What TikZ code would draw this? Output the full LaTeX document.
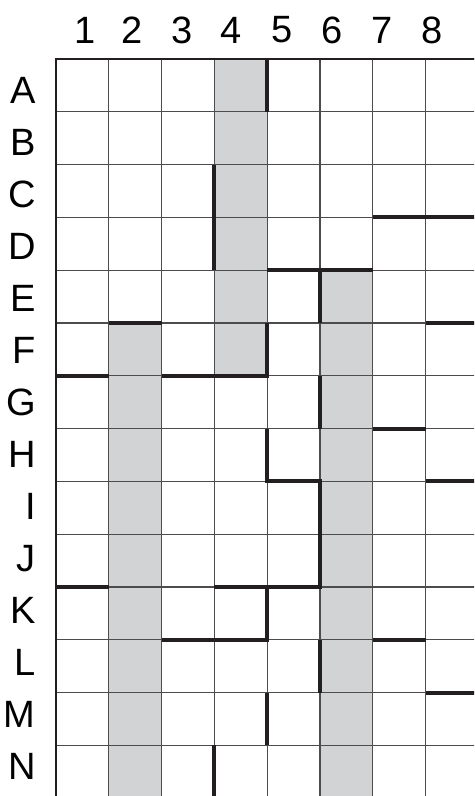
\documentclass[tikz,border=0pt]{standalone}
\usepackage{xcolor}
\usepackage{fontspec}
\setmainfont{Liberation Sans}
\usepackage{tikz}
\usetikzlibrary{positioning}

\definecolor{shadegray}{RGB}{210,211,213}
\definecolor{inkblack}{RGB}{35,31,32}

\begin{document}
\begin{tikzpicture}[
    shade/.style={fill=shadegray, draw=none},
    gridline/.style={draw=black!70, line width=0.6pt},
    frame/.style={draw=inkblack, line width=1.3pt},
    wall/.style={draw=inkblack, line width=2.2pt, line join=miter},
    collabel/.style={inner sep=0pt, font=\fontsize{20.5}{24}\selectfont},
    rowlabel/.style={inner sep=0pt, anchor=east, font=\fontsize{20.5}{24}\selectfont}
]
\useasboundingbox (-1.061,1.117) rectangle (7.917,-13.958);

% Column labels
\node[collabel] (c1) at (0.549,0.55) {1};
\node[collabel] (c2) at (1.434,0.55) {2};
\node[collabel] (c3) at (2.381,0.55) {3};
\node[collabel] (c4) at (3.314,0.55) {4};
\node[collabel] (c5) at (4.275,0.55) {5};
\node[collabel] (c6) at (5.222,0.55) {6};
\node[collabel] (c7) at (6.169,0.55) {7};
\node[collabel] (c8) at (7.116,0.55) {8};

% Row labels
\node[rowlabel] (rA) at (-0.379,-0.587) {A};
\node[rowlabel] (rB) at (-0.379,-1.573) {B};
\node[rowlabel] (rC) at (-0.379,-2.559) {C};
\node[rowlabel] (rD) at (-0.379,-3.545) {D};
\node[rowlabel] (rE) at (-0.379,-4.531) {E};
\node[rowlabel] (rF) at (-0.379,-5.517) {F};
\node[rowlabel] (rG) at (-0.379,-6.503) {G};
\node[rowlabel] (rH) at (-0.379,-7.489) {H};
\node[rowlabel] (rI) at (-0.379,-8.475) {I};
\node[rowlabel] (rJ) at (-0.379,-9.461) {J};
\node[rowlabel] (rK) at (-0.379,-10.447) {K};
\node[rowlabel] (rL) at (-0.379,-11.433) {L};
\node[rowlabel] (rM) at (-0.379,-12.419) {M};
\node[rowlabel] (rN) at (-0.379,-13.405) {N};

\clip (-1.061,1.117) rectangle (7.917,-13.958);

% Shaded columns
\fill[shade] (3,0) rectangle (4,-6);
\fill[shade] (1,-5) rectangle (2,-14);
\fill[shade] (5,-4) rectangle (6,-14);

% Grid
\draw[gridline] (0,0) grid (8,-14);
\draw[frame] (0,-14) -- (0,0) -- (8,0);

% Walls
\draw[wall] (4,0) -- (4,-1);
\draw[wall] (3,-2) -- (3,-4);
\draw[wall] (6,-3) -- (8,-3);
\draw[wall] (4,-4) -- (6,-4);
\draw[wall] (5,-4) -- (5,-5);
\draw[wall] (1,-5) -- (2,-5);
\draw[wall] (7,-5) -- (8,-5);
\draw[wall] (0,-6) -- (1,-6);
\draw[wall] (2,-6) -- (4,-6) -- (4,-5);
\draw[wall] (5,-6) -- (5,-7);
\draw[wall] (6,-7) -- (7,-7);
\draw[wall] (4,-7) -- (4,-8) -- (5,-8) -- (5,-10) -- (3,-10);
\draw[wall] (7,-8) -- (8,-8);
\draw[wall] (0,-10) -- (1,-10);
\draw[wall] (4,-10) -- (4,-11) -- (2,-11);
\draw[wall] (6,-11) -- (7,-11);
\draw[wall] (5,-11) -- (5,-12);
\draw[wall] (7,-12) -- (8,-12);
\draw[wall] (4,-12) -- (4,-13);
\draw[wall] (3,-13) -- (3,-14);
\end{tikzpicture}
\end{document}
